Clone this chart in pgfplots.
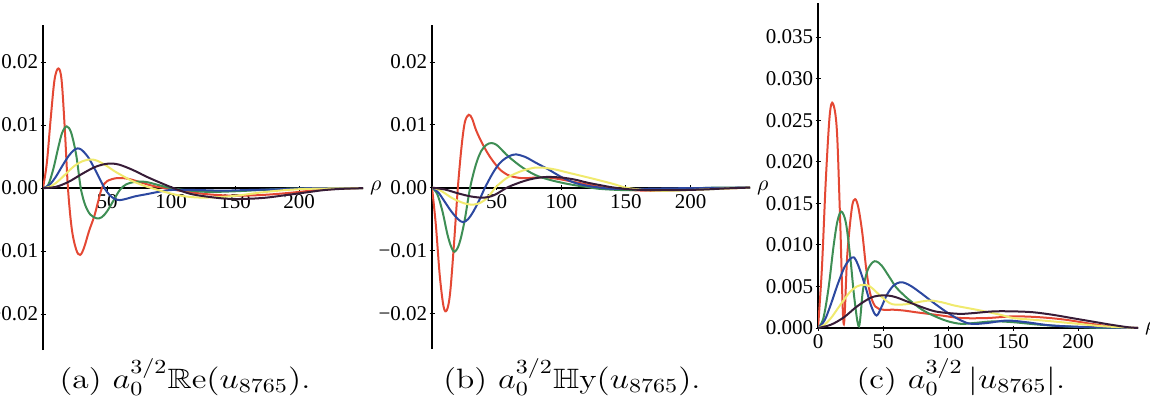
\documentclass[border=0pt]{standalone}
\usepackage{fontspec}
\usepackage{amssymb}
\usepackage{graphicx}
\usepackage{pgfplots}
\pgfplotsset{compat=1.18}
\newfontfamily\tickfont{Liberation Serif}
\definecolor{cred}{RGB}{228,72,52}
\definecolor{cgreen}{RGB}{62,142,84}
\definecolor{cblue}{RGB}{44,72,160}
\definecolor{cyellow}{RGB}{240,234,110}
\definecolor{cdark}{RGB}{55,28,55}
\pgfplotsset{mma/.style={scale only axis, anchor=south west,
  axis lines=middle, axis line style={-,line width=0.9pt,black},
  tick style={black,line width=0.5pt}, major tick length=2.5pt,
  scaled ticks=false, hide obscured x ticks=false, hide obscured y ticks=false,
  tick label style={font=\fontsize{10.5}{12}\selectfont\tickfont},
  yticklabel style={inner sep=1pt},
  xticklabel style={inner sep=2pt},
  xlabel={$\rho$},
  every axis x label/.style={at={(current axis.right of origin)},anchor=west,font=\fontsize{11}{12}\selectfont},
  every axis plot/.append style={line width=1pt, smooth, tension=0.55, mark=none}}}
\begin{document}
\begin{tikzpicture}
% ---------- (a) Re ----------
\begin{axis}[mma, at={(21.5pt,26pt)}, width=160pt, height=162.5pt,
  xmin=0, xmax=250, ymin=-0.0257, ymax=0.0259,
  xtick={50,100,150,200}, xticklabels={50,100,150,200},
  ytick={-0.02,-0.01,0,0.01,0.02}, yticklabels={−0.02,−0.01,0.00,0.01,0.02}]
\addplot[cred] coordinates {(0,0)(3,0.004)(6,0.011)(9,0.0172)(12,0.019)(14.5,0.0172)(17,0.0095)(19.5,0)(22.5,-0.0065)(26,-0.0098)(29,-0.0106)(32,-0.0095)(36,-0.0068)(40,-0.0045)(43,-0.0022)(46,0)(50,0.0011)(58,0.0016)(66,0.0015)(75,0.001)(85,0.0004)(95,0)(110,-0.0005)(130,-0.001)(150,-0.0012)(170,-0.0011)(190,-0.0008)(210,-0.0004)(230,-0.0001)(250,0)};
\addplot[cgreen] coordinates {(0,0)(4,0.0005)(8,0.003)(12,0.0065)(15,0.0088)(18.5,0.0098)(22,0.0088)(26,0.0052)(29.5,0)(33,-0.0027)(37,-0.0042)(42,-0.0048)(46,-0.0046)(50,-0.0037)(55,-0.002)(60,-0.0003)(65,0.0006)(72,0.001)(80,0.001)(90,0.0005)(100,0)(115,-0.0004)(130,-0.0006)(150,-0.0005)(170,-0.0003)(190,-0.0001)(220,0)(250,0)};
\addplot[cblue] coordinates {(0,0)(5,0.0005)(10,0.0018)(15,0.0035)(20,0.0051)(24,0.006)(27,0.0063)(30,0.0061)(35,0.005)(40,0.0032)(45,0.0012)(48,0)(52,-0.0011)(56,-0.0017)(60,-0.0019)(65,-0.0017)(72,-0.0013)(80,-0.001)(90,-0.0006)(100,-0.0003)(120,-0.0003)(140,-0.0004)(160,-0.0003)(180,-0.0002)(210,0)(250,0)};
\addplot[cyellow] coordinates {(0,0)(5,0.0002)(10,0.0008)(15,0.0017)(20,0.0027)(25,0.0036)(30,0.0042)(35,0.0045)(40,0.0045)(45,0.0041)(50,0.0035)(55,0.0028)(60,0.0022)(70,0.0011)(80,0.0003)(85,0)(95,-0.0006)(105,-0.0011)(115,-0.0014)(125,-0.0015)(140,-0.0014)(155,-0.0011)(170,-0.0007)(190,-0.0003)(210,-0.0001)(250,0)};
\addplot[cdark] coordinates {(0,0)(10,0.0002)(20,0.001)(30,0.0022)(40,0.0033)(48,0.0038)(54,0.0039)(60,0.0037)(70,0.0029)(80,0.0019)(90,0.001)(102,0)(115,-0.0009)(130,-0.0014)(145,-0.0017)(160,-0.0017)(175,-0.0015)(190,-0.0011)(205,-0.0007)(220,-0.0003)(235,-0.0001)(250,0)};
\end{axis}
% ---------- (b) Hy ----------
\begin{axis}[mma, at={(216pt,26.5pt)}, width=159pt, height=162pt,
  xmin=0, xmax=246, ymin=-0.0257, ymax=0.0259,
  xtick={50,100,150,200}, xticklabels={50,100,150,200},
  ytick={-0.02,-0.01,0,0.01,0.02}, yticklabels={−0.02,−0.01,0.00,0.01,0.02}]
\addplot[cred] coordinates {(0,0)(3,-0.006)(6,-0.014)(9,-0.019)(11.5,-0.0195)(14,-0.0168)(17,-0.009)(20,0)(23,0.0068)(25.5,0.0105)(28.5,0.0116)(31,0.011)(34,0.0092)(38,0.0074)(43,0.0055)(48,0.004)(53,0.0028)(60,0.0019)(70,0.0015)(80,0.0016)(90,0.0016)(100,0.0013)(110,0.0009)(120,0.0005)(130,0.0001)(140,-0.0002)(155,-0.0004)(170,-0.0005)(190,-0.0004)(210,-0.0002)(230,-0.0001)(246,0)};
\addplot[cgreen] coordinates {(0,0)(4,-0.001)(8,-0.0037)(12,-0.0075)(15,-0.0095)(17.5,-0.0102)(21,-0.009)(25,-0.0055)(29.5,0)(34,0.0037)(38,0.0058)(42,0.0068)(46,0.0071)(50,0.0068)(55,0.0058)(60,0.0048)(70,0.0032)(80,0.002)(90,0.0013)(100,0.0008)(110,0.0004)(120,0.0001)(130,-0.0002)(150,-0.0004)(170,-0.0003)(190,-0.0002)(220,0)(246,0)};
\addplot[cblue] coordinates {(0,0)(5,-0.0008)(10,-0.0023)(15,-0.0038)(20,-0.005)(24,-0.0055)(28,-0.005)(32,-0.0038)(37,-0.0018)(41,0)(47,0.0023)(52,0.0038)(57,0.0047)(62,0.0052)(65,0.0053)(72,0.0049)(80,0.004)(90,0.0029)(100,0.0017)(110,0.0008)(120,0.0003)(130,0)(140,-0.0002)(160,-0.0002)(190,-0.0001)(246,0)};
\addplot[cyellow] coordinates {(0,0)(5,-0.0003)(10,-0.0009)(15,-0.0016)(20,-0.0021)(25,-0.0025)(30,-0.0027)(35,-0.0026)(40,-0.0021)(45,-0.0011)(49,0)(55,0.0011)(60,0.0018)(70,0.0027)(80,0.0032)(85,0.0032)(95,0.0029)(105,0.0024)(115,0.0019)(125,0.0014)(140,0.0006)(150,0)(165,-0.0004)(180,-0.0005)(200,-0.0004)(220,-0.0002)(246,0)};
\addplot[cdark] coordinates {(0,0)(10,-0.0003)(20,-0.0009)(30,-0.0014)(40,-0.0016)(48,-0.0012)(58,0)(65,0.0006)(72,0.0011)(80,0.0015)(89,0.0017)(100,0.0016)(110,0.0013)(120,0.0008)(130,0.0004)(141,0)(155,-0.0003)(170,-0.0004)(190,-0.0004)(210,-0.0003)(230,-0.0001)(246,0)};
\end{axis}
% ---------- (c) Abs ----------
\begin{axis}[mma, at={(409pt,37pt)}, width=160pt, height=162.5pt,
  xmin=0, xmax=246, ymin=0, ymax=0.0391,
  xtick={0,50,100,150,200}, xticklabels={0,50,100,150,200},
  ytick={0,0.005,0.01,0.015,0.02,0.025,0.03,0.035},
  yticklabels={0.000,0.005,0.010,0.015,0.020,0.025,0.030,0.035}]
\addplot[cred] coordinates {(0,0)(3,0.0072)(6,0.0178)(9,0.0256)(11.5,0.027)(14.5,0.0238)(17,0.0131)(19.7,0.0005)(22.5,0.0088)(26,0.0144)(28.5,0.0155)(31,0.0145)(34,0.0115)(37,0.0072)(40,0.0042)(44,0.0026)(50,0.0022)(58,0.0022)(66,0.0021)(75,0.0019)(85,0.0017)(95,0.0015)(110,0.0012)(130,0.0012)(150,0.0014)(170,0.0013)(190,0.001)(210,0.0005)(230,0.0001)(246,0)};
\addplot[cgreen] coordinates {(0,0)(4,0.0011)(8,0.0047)(12,0.0099)(15,0.0129)(18,0.014)(21.5,0.0126)(25,0.0082)(28,0.0035)(31.5,0.0002)(34.5,0.0045)(38,0.0069)(42,0.0079)(45,0.008)(49,0.0075)(55,0.0061)(60,0.0049)(65,0.0041)(70,0.0034)(80,0.0022)(90,0.0014)(100,0.0008)(110,0.0005)(120,0.0006)(135,0.0008)(150,0.0007)(170,0.0004)(190,0.0002)(220,0)(246,0)};
\addplot[cblue] coordinates {(0,0)(5,0.0009)(10,0.0029)(15,0.0052)(20,0.0072)(24,0.0082)(27.5,0.0085)(31,0.0075)(36,0.0052)(41,0.0026)(45,0.0015)(49,0.0026)(53,0.004)(58,0.0051)(63,0.0055)(67,0.0054)(72,0.005)(80,0.0041)(90,0.0029)(100,0.0018)(110,0.0009)(118,0.0005)(130,0.0006)(145,0.0009)(160,0.0007)(180,0.0003)(210,0.0001)(246,0)};
\addplot[cyellow] coordinates {(0,0)(5,0.0004)(10,0.0012)(15,0.0023)(20,0.0034)(25,0.0044)(30,0.005)(35,0.0052)(40,0.005)(45,0.0043)(50,0.0036)(55,0.003)(60,0.0028)(70,0.0029)(80,0.0032)(87,0.0033)(95,0.0031)(105,0.0027)(115,0.0024)(125,0.0021)(140,0.0016)(150,0.0012)(165,0.001)(180,0.0008)(200,0.0005)(220,0.0002)(246,0)};
\addplot[cdark] coordinates {(0,0)(10,0.0004)(20,0.0013)(30,0.0026)(40,0.0036)(47,0.0039)(54,0.0039)(60,0.0037)(70,0.0031)(80,0.0025)(90,0.002)(100,0.0018)(110,0.0017)(120,0.0018)(135,0.002)(150,0.002)(165,0.0019)(180,0.0016)(195,0.0012)(210,0.0008)(225,0.0004)(238,0.0001)(246,0)};
\end{axis}
% captions
\node[font=\fontsize{14}{17}\selectfont, anchor=base, inner sep=0pt] at (92.5pt,7pt) {\scalebox{1.2}[1]{(a) $a_0^{3/2}\mathbb{R}\mathrm{e}(u_{8765})$.}};
\node[font=\fontsize{14}{17}\selectfont, anchor=base, inner sep=0pt] at (286pt,7pt) {\scalebox{1.2}[1]{(b) $a_0^{3/2}\mathbb{H}\mathrm{y}(u_{8765})$.}};
\node[font=\fontsize{14}{17}\selectfont, anchor=base, inner sep=0pt] at (480.5pt,7pt) {\scalebox{1.2}[1]{(c) $a_0^{3/2}\,|u_{8765}|$.}};
\pgfresetboundingbox
\path[use as bounding box] (0,0) rectangle (575pt,201pt);
\end{tikzpicture}
\end{document}
